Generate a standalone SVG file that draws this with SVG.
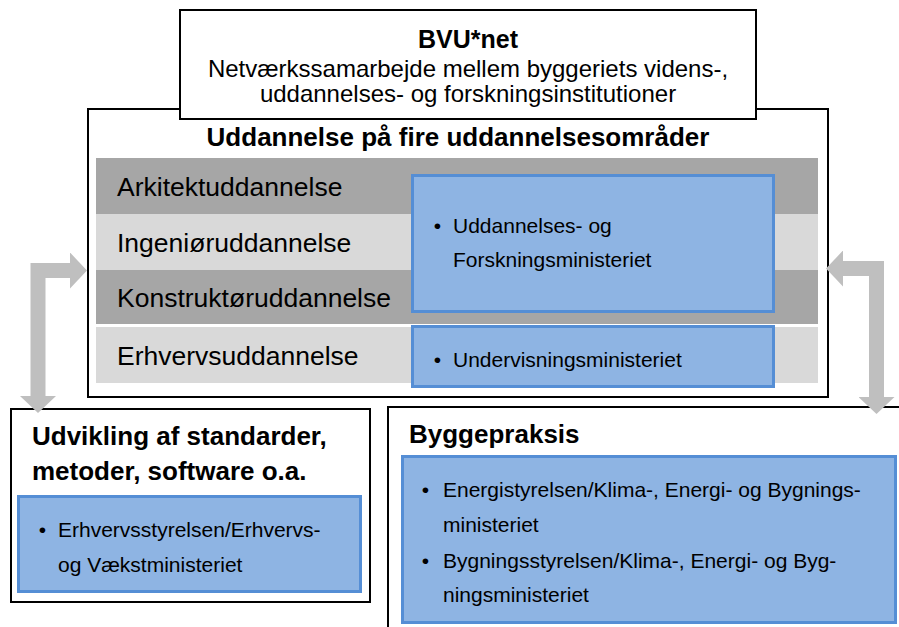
<svg xmlns="http://www.w3.org/2000/svg" width="899" height="627" viewBox="0 0 899 627">
<style>
text{font-family:"Liberation Sans",Arial,sans-serif;fill:#000}
.box{fill:#fff;stroke:#000;stroke-width:2}
.title{font-weight:bold;font-size:26px}
.sub{font-size:24px}
.row{font-size:26.5px}
.dark{fill:#a6a6a6}
.light{fill:#d9d9d9}
.min{fill:#8eb4e3;stroke:#558ed5;stroke-width:3}
.item{font-size:21px}
.conn{fill:none;stroke:#bfbfbf;stroke-width:15;stroke-linejoin:miter;marker-start:url(#head);marker-end:url(#head)}
</style>
<defs>
<marker id="head" markerUnits="userSpaceOnUse" viewBox="0 0 17 36" markerWidth="17" markerHeight="36" refX="0" refY="18" orient="auto-start-reverse">
<path d="M0,0 L17,18 L0,36 z" fill="#bfbfbf"/>
</marker>
</defs>
<rect width="899" height="627" fill="#fff"/>

<g id="uddannelse">
<rect class="box" x="88" y="109" width="740" height="288"/>
<text class="title" x="458" y="146" text-anchor="middle">Uddannelse på fire uddannelsesområder</text>
<rect class="dark" x="96" y="158" width="722" height="56"/>
<rect class="light" x="96" y="214" width="722" height="56"/>
<rect class="dark" x="96" y="270" width="722" height="54"/>
<rect class="light" x="96" y="327" width="722" height="56"/>
<text class="row" x="117" y="196">Arkitektuddannelse</text>
<text class="row" x="117" y="252">Ingeniøruddannelse</text>
<text class="row" x="117" y="307">Konstruktøruddannelse</text>
<text class="row" x="117" y="365">Erhvervsuddannelse</text>
</g>

<g id="ufm">
<rect class="min" x="412.5" y="175.5" width="361" height="136"/>
<text class="item" x="437.5" y="233" text-anchor="middle">•</text>
<text class="item" x="453" y="233">Uddannelses- og</text>
<text class="item" x="453" y="267">Forskningsministeriet</text>
</g>

<g id="uvm">
<rect class="min" x="412.5" y="326.5" width="361" height="60"/>
<text class="item" x="437.5" y="367" text-anchor="middle">•</text>
<text class="item" x="453" y="367">Undervisningsministeriet</text>
</g>

<g id="bvunet">
<rect class="box" x="180" y="10" width="576" height="109"/>
<text class="title" x="468" y="48" text-anchor="middle" style="font-size:25px">BVU*net</text>
<text class="sub" x="468" y="77" text-anchor="middle">Netværkssamarbejde mellem byggeriets videns-,</text>
<text class="sub" x="468" y="102" text-anchor="middle">uddannelses- og forskningsinstitutioner</text>
</g>

<g id="udvikling">
<rect class="box" x="11" y="409" width="359" height="193"/>
<text class="title" x="32" y="445">Udvikling af standarder,</text>
<text class="title" x="32" y="480">metoder, software o.a.</text>
<rect class="min" x="18.5" y="496.5" width="342" height="95"/>
<text class="item" x="42.5" y="537" text-anchor="middle">•</text>
<text class="item" x="58" y="537">Erhvervsstyrelsen/Erhvervs-</text>
<text class="item" x="58" y="572">og Vækstministeriet</text>
</g>

<g id="byggepraksis">
<rect class="box" x="388" y="407" width="530" height="240"/>
<text class="title" x="409" y="443">Byggepraksis</text>
<rect class="min" x="402.5" y="456.5" width="493" height="166"/>
<text class="item" x="425.5" y="497" text-anchor="middle">•</text>
<text class="item" x="443" y="497">Energistyrelsen/Klima-, Energi- og Bygnings-</text>
<text class="item" x="443" y="532">ministeriet</text>
<text class="item" x="425.5" y="568" text-anchor="middle">•</text>
<text class="item" x="443" y="568">Bygningsstyrelsen/Klima-, Energi- og Byg-</text>
<text class="item" x="443" y="602">ningsministeriet</text>
</g>

<g id="connectors">
<path class="conn" d="M38,396 V270.5 H70"/>
<path class="conn" d="M876.5,397 V268.5 H843"/>
</g>
</svg>
